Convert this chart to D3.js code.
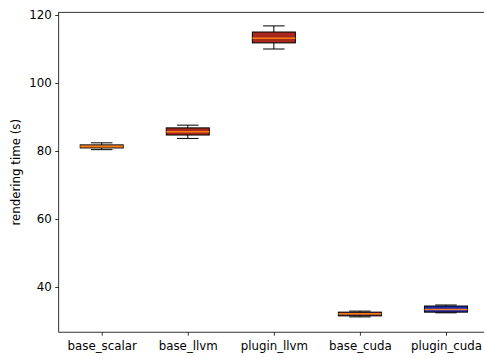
<!DOCTYPE html>
<html>
<head>
<meta charset="utf-8">
<script src="https://cdn.jsdelivr.net/npm/d3@7"></script>
<style>
  body { margin: 0; background: #fff; }
  svg { display: block; font-family: "DejaVu Sans", sans-serif; }
</style>
</head>
<body>
<svg id="chart" width="484" height="358"></svg>
<script>
// box plot summaries (seconds)
const categories = ["base_scalar", "base_llvm", "plugin_llvm", "base_cuda", "plugin_cuda"];
const whiskerLow = [80.4, 83.7, 110.0, 31.2, 32.4];
const q1 = [80.9, 84.7, 111.8, 31.5, 32.6];
const median = [81.3, 85.7, 113.2, 32.1, 33.4];
const q3 = [81.8, 86.8, 115.0, 32.6, 34.4];
const whiskerHigh = [82.4, 87.6, 116.8, 32.9, 34.7];
const yTicks = [40, 60, 80, 100, 120];

const boxColors = ["#e07b39", "#a8281e", "#a8281e", "#70304a", "#1f2bb5"];

const svg = d3.select("#chart");
const margin = { left: 58.7, right: 489, top: 12.3, bottom: 332.2 };
const fontSize = "11.8px";

const x = d3.scaleLinear().domain([0.5, 5.5]).range([margin.left, margin.right]);
const y = d3.scaleLinear().domain([26.7, 120.8]).range([margin.bottom, margin.top]);

const boxW = x(0.5) - x(0);
const capW = boxW / 2;

const data = categories.map((c, i) => ({
	name: c, pos: i + 1,
	lo: whiskerLow[i], q1: q1[i], med: median[i], q3: q3[i], hi: whiskerHigh[i],
	color: boxColors[i]
}));

const g = svg.append("g");

const box = g.selectAll(".box")
	.data(data)
	.enter()
	.append("g")
	.attr("class", "box");

// whiskers
box.append("line")
	.attr("x1", (d) => x(d.pos)).attr("x2", (d) => x(d.pos))
	.attr("y1", (d) => y(d.hi)).attr("y2", (d) => y(d.q3))
	.attr("stroke", "#000").attr("stroke-width", 1);
box.append("line")
	.attr("x1", (d) => x(d.pos)).attr("x2", (d) => x(d.pos))
	.attr("y1", (d) => y(d.lo)).attr("y2", (d) => y(d.q1))
	.attr("stroke", "#000").attr("stroke-width", 1);

// caps
["lo", "hi"].forEach((k) => {
	box.append("line")
		.attr("x1", (d) => x(d.pos) - capW / 2).attr("x2", (d) => x(d.pos) + capW / 2)
		.attr("y1", (d) => y(d[k])).attr("y2", (d) => y(d[k]))
		.attr("stroke", "#000").attr("stroke-width", 1);
});

// boxes
box.append("rect")
	.attr("x", (d) => x(d.pos) - boxW / 2)
	.attr("width", boxW)
	.attr("y", (d) => y(d.q3))
	.attr("height", (d) => y(d.q1) - y(d.q3))
	.attr("fill", (d) => d.color)
	.attr("stroke", "#000")
	.attr("stroke-width", 1);

// medians
box.append("line")
	.attr("x1", (d) => x(d.pos) - boxW / 2).attr("x2", (d) => x(d.pos) + boxW / 2)
	.attr("y1", (d) => y(d.med)).attr("y2", (d) => y(d.med))
	.attr("stroke", "#ff7f0e").attr("stroke-width", 1.5);

// axes
const yAxis = d3.axisLeft(y).tickValues(yTicks).tickSize(3.5).tickPadding(3.5);
const xAxis = d3.axisBottom(x).tickValues(d3.range(1, 6)).tickSize(3.5).tickPadding(6)
	.tickFormat((d) => categories[d - 1]);

const ya = svg.append("g").attr("transform", `translate(${margin.left},0)`).call(yAxis);
const xa = svg.append("g").attr("transform", `translate(0,${margin.bottom})`).call(xAxis);

[ya, xa].forEach((a) => {
	a.select(".domain").remove();
	a.selectAll("line").attr("stroke", "#000").attr("stroke-width", 0.8);
	a.selectAll("text").attr("fill", "#000").style("font-size", fontSize).style("font-family", "DejaVu Sans");
});

// frame
svg.append("rect")
	.attr("x", margin.left).attr("y", margin.top)
	.attr("width", margin.right - margin.left)
	.attr("height", margin.bottom - margin.top)
	.attr("fill", "none").attr("stroke", "#000").attr("stroke-width", 0.8);

svg.append("text")
	.attr("transform", `translate(16,${(margin.top + margin.bottom) / 2}) rotate(-90)`)
	.attr("text-anchor", "middle")
	.attr("dy", "0.35em")
	.style("font-size", fontSize)
	.text("rendering time (s)");
</script>
</body>
</html>
